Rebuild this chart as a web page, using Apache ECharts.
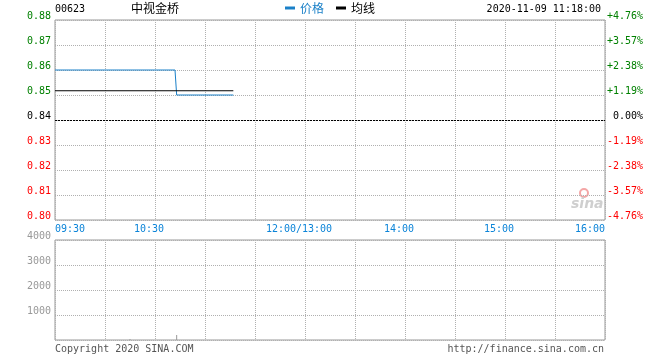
<!DOCTYPE html>
<html><head><meta charset="utf-8">
<script src="https://cdn.jsdelivr.net/npm/echarts@6/dist/echarts.min.js"></script>
<style>html,body{margin:0;padding:0;background:#fff}#c{width:660px;height:360px}</style>
</head><body><div id="c"></div>
<script>
const stockCode = '00623';
const stockName = '中视金桥';
const dateTime = '2020-11-09 11:18:00';
const copyrightText = 'Copyright 2020 SINA.COM';
const urlText = 'http://finance.sina.com.cn';
const prevClose = 0.84;
const priceTimes = ['09:30', '10:42', '10:43', '11:17'];
const priceValues = [0.86, 0.86, 0.85, 0.85];
const avgTimes = ['09:30', '11:17'];
const avgValues = [0.8517, 0.8517];
const volTimes = ['10:15', '10:43'];
const volValues = [40, 200];
const xTickMinutes = [0, 60, 150, 210, 270, 330];
const xTickLabels = ['09:30', '10:30', '12:00/13:00', '14:00', '15:00', '16:00'];
const priceTickLabels = ['0.80', '0.81', '0.82', '0.83', '0.84', '0.85', '0.86', '0.87', '0.88'];
const pctTickLabels = ['-4.76%', '-3.57%', '-2.38%', '-1.19%', ' 0.00%', '+1.19%', '+2.38%', '+3.57%', '+4.76%'];
const volTickLabels = ['', '1000', '2000', '3000', '4000'];

const MONO = 'DejaVu Sans Mono';
const GREEN = '#008000', RED = '#ff0000', BLUE = '#1a80c8', TIMEBLUE = '#0b84d8';

function toMinute(t) {
  const [h, m] = t.split(':').map(Number);
  const tot = h * 60 + m;
  return tot < 780 ? tot - 570 : tot - 780 + 150;
}
function pts(times, vals) { return times.map((t, i) => [toMinute(t), vals[i]]); }
function priceColor(v) {
  if (v > prevClose + 1e-9) return GREEN;
  if (v < prevClose - 1e-9) return RED;
  return '#000';
}
const gridLine = { show: true, lineStyle: { color: '#b0b0b0', type: [1, 1], width: 1 } };
const tStyle = (size, color, fam) => ({ fontFamily: fam || MONO, fontSize: size, fontWeight: 'normal', color: color });
const yLabelBase = { fontFamily: MONO, fontSize: 10, verticalAlign: 'bottom', lineHeight: 7 };

const chart = echarts.init(document.getElementById('c'), null, { renderer: 'canvas' });
chart.setOption({
  animation: false,
  backgroundColor: '#fff',
  title: [
    { text: stockCode, left: 55, top: 4, padding: 0, textStyle: tStyle(10, '#000') },
    { text: stockName, left: 131, top: 2, padding: 0, textStyle: tStyle(12, '#000', 'Noto Sans CJK SC') },
    { text: dateTime, right: 59, top: 4, padding: 0, textStyle: tStyle(10, '#000') },
    { text: copyrightText, left: 55, top: 344, padding: 0, textStyle: tStyle(10, '#555') },
    { text: urlText, right: 56, top: 344, padding: 0, textStyle: tStyle(10, '#555') }
  ],
  legend: {
    left: 285, top: 2, padding: 0, icon: 'rect', itemWidth: 10, itemHeight: 3, itemGap: 12,
    textStyle: { fontFamily: 'Noto Sans CJK SC', fontSize: 12, color: '#000' },
    data: [{ name: '价格', textStyle: { color: BLUE } }, { name: '均线' }]
  },
  grid: [
    { left: 55, right: 55, top: 20, height: 200, show: true, borderColor: '#999', borderWidth: 1 },
    { left: 55, right: 55, top: 240, height: 100, show: true, borderColor: '#999', borderWidth: 1 }
  ],
  xAxis: [
    {
      type: 'value', gridIndex: 0, min: 0, max: 330, interval: 30,
      axisLine: { show: false }, axisTick: { show: false }, splitLine: gridLine,
      axisLabel: {
        margin: 4, fontFamily: MONO, fontSize: 10, color: TIMEBLUE,
        alignMinLabel: 'left', alignMaxLabel: 'right',
        formatter: function (v) {
          const i = xTickMinutes.indexOf(Math.round(v));
          if (i < 0) return '';
          if (i === 0 || i === xTickMinutes.length - 1) return xTickLabels[i];
          return '{m|' + xTickLabels[i] + '}';
        },
        rich: { m: { fontFamily: MONO, fontSize: 10, color: TIMEBLUE, padding: [0, 12, 0, 0] } }
      }
    },
    {
      type: 'value', gridIndex: 1, min: 0, max: 330, interval: 30,
      axisLine: { show: false }, axisTick: { show: false }, splitLine: gridLine,
      axisLabel: { show: false }
    }
  ],
  yAxis: [
    {
      type: 'value', gridIndex: 0, min: 0.80, max: 0.88, interval: 0.01,
      axisLine: { show: false }, axisTick: { show: false }, splitLine: gridLine,
      axisLabel: Object.assign({}, yLabelBase, {
        margin: 4,
        formatter: function (v, i) { return priceTickLabels[i]; },
        color: function (v) { return priceColor(v); }
      })
    },
    {
      type: 'value', gridIndex: 0, position: 'right', min: 0.80, max: 0.88, interval: 0.01,
      axisLine: { show: false }, axisTick: { show: false }, splitLine: { show: false },
      axisLabel: Object.assign({}, yLabelBase, {
        margin: 2,
        formatter: function (v, i) { return pctTickLabels[i]; },
        color: function (v) { return priceColor(v); }
      })
    },
    {
      type: 'value', gridIndex: 1, min: 0, max: 4000, interval: 1000,
      axisLine: { show: false }, axisTick: { show: false }, splitLine: gridLine,
      axisLabel: Object.assign({}, yLabelBase, {
        margin: 4, color: '#999',
        formatter: function (v, i) { return volTickLabels[i]; }
      })
    }
  ],
  graphic: [
    { type: 'circle', shape: { cx: 584, cy: 193, r: 4 }, style: { fill: 'none', stroke: '#f4a6a6', lineWidth: 2 }, silent: true },
    { type: 'text', left: 571, top: 197, style: { text: 'sina', font: 'italic bold 14px DejaVu Sans', fill: '#cfcfcf' }, silent: true }
  ],
  series: [
    {
      name: '价格', type: 'line', xAxisIndex: 0, yAxisIndex: 0, data: pts(priceTimes, priceValues),
      showSymbol: false, symbol: 'none', color: BLUE, lineStyle: { width: 1, color: BLUE },
      markLine: {
        silent: true, symbol: ['none', 'none'], label: { show: false },
        lineStyle: { color: '#000', type: [2, 1], width: 1 },
        data: [{ yAxis: prevClose }]
      }
    },
    {
      name: '均线', type: 'line', xAxisIndex: 0, yAxisIndex: 0, data: pts(avgTimes, avgValues),
      showSymbol: false, symbol: 'none', color: '#000', lineStyle: { width: 1, color: '#000' }
    },
    {
      name: '成交量', type: 'bar', xAxisIndex: 1, yAxisIndex: 2, data: pts(volTimes, volValues),
      barWidth: 1, itemStyle: { color: '#999' }
    }
  ]
});
</script>
</body></html>
